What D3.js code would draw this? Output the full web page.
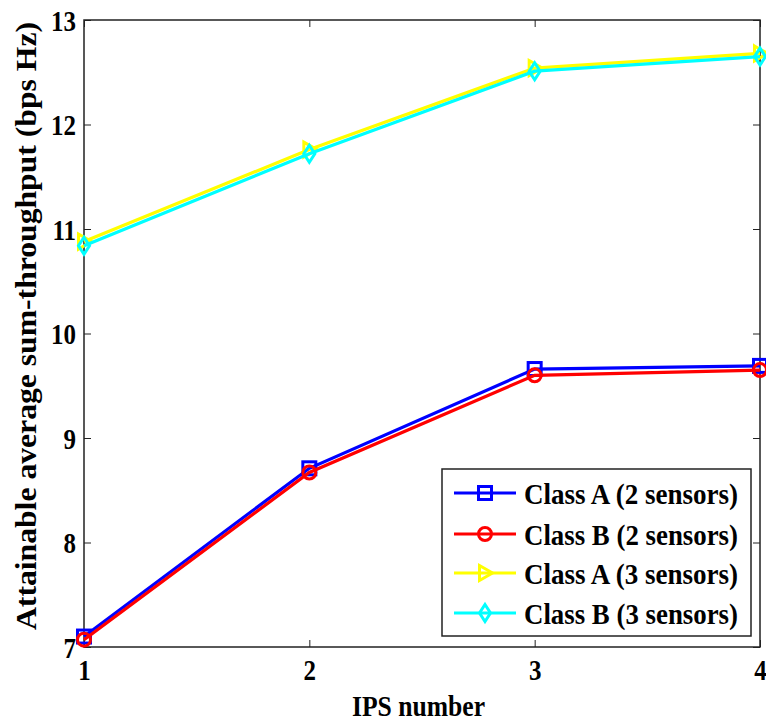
<!DOCTYPE html>
<html>
<head>
<meta charset="utf-8">
<script src="https://cdn.jsdelivr.net/npm/d3@7"></script>
<style>
  html, body { margin: 0; padding: 0; background: #fff; }
  svg text { font-family: "Liberation Serif", "Times New Roman", serif; font-weight: bold; fill: #000; }
</style>
</head>
<body>
<svg id="chart" width="766" height="723"></svg>
<script>
// IPS counts on the x axis
const ipsNumbers = [1, 2, 3, 4];
// Attainable average sum-throughput per series
const classA2 = [7.10, 8.71, 9.66, 9.69];
const classB2 = [7.07, 8.67, 9.60, 9.65];
const classA3 = [10.88, 11.76, 12.54, 12.68];
const classB3 = [10.84, 11.72, 12.51, 12.65];
const seriesNames = ["Class A (2 sensors)", "Class B (2 sensors)", "Class A (3 sensors)", "Class B (3 sensors)"];
const seriesColors = ["#0000ff", "#ff0000", "#ffff00", "#00ffff"];
const seriesMarkers = ["square", "circle", "triangle", "diamond"];
const yTicks = [7, 8, 9, 10, 11, 12, 13];

const seriesValues = [classA2, classB2, classA3, classB3];
const series = seriesNames.map((name, i) => ({
  name, color: seriesColors[i], marker: seriesMarkers[i],
  points: ipsNumbers.map((x, j) => ({ x, y: seriesValues[i][j] }))
}));

const svg = d3.select("#chart");
const m = { left: 84, right: 760, top: 20, bottom: 647 };

const x = d3.scaleLinear().domain([1, 4]).range([m.left, m.right]);
const y = d3.scaleLinear().domain([7, 13]).range([m.bottom, m.top]);

// Narrow the bold serif glyphs horizontally
function condense(sel, factor) {
  sel.each(function () {
    const w = this.getComputedTextLength();
    d3.select(this).attr("textLength", w * factor).attr("lengthAdjust", "spacingAndGlyphs");
  });
}

// Tick marks on all four sides, pointing inward
const tickLen = 7;
const g = svg.append("g");
g.append("g").attr("transform", `translate(0,${m.bottom})`)
  .call(d3.axisBottom(x).tickValues(ipsNumbers).tickSize(-tickLen).tickPadding(0).tickFormat(d3.format("d")))
  .call(s => s.select(".domain").remove())
  .call(s => s.selectAll(".tick text").attr("dy", null).attr("y", 33));
g.append("g").attr("transform", `translate(0,${m.top})`)
  .call(d3.axisTop(x).tickValues(ipsNumbers).tickSize(-tickLen).tickFormat(""))
  .call(s => s.select(".domain").remove());
g.append("g").attr("transform", `translate(${m.left},0)`)
  .call(d3.axisLeft(y).tickValues(yTicks).tickSize(-tickLen).tickPadding(0).tickFormat(d3.format("d")))
  .call(s => s.select(".domain").remove())
  .call(s => s.selectAll(".tick text").attr("dy", null).attr("x", -8).attr("y", 10));
g.append("g").attr("transform", `translate(${m.right},0)`)
  .call(d3.axisRight(y).tickValues(yTicks).tickSize(-tickLen).tickFormat(""))
  .call(s => s.select(".domain").remove());
g.selectAll(".tick line").attr("stroke", "#222").attr("stroke-width", 1);
g.selectAll(".tick text").attr("fill", "#000").attr("font-size", 29)
  .attr("font-family", "Liberation Serif, Times New Roman, serif").attr("font-weight", "bold")
  .call(condense, 0.86);

// Plot frame
svg.append("rect").attr("x", m.left).attr("y", m.top)
  .attr("width", m.right - m.left).attr("height", m.bottom - m.top)
  .attr("fill", "none").attr("stroke", "#222").attr("stroke-width", 1.5);

function drawMarker(sel, type, color, size) {
  const h = size / 2;
  if (type === "square") {
    sel.append("rect").attr("x", -h).attr("y", -h).attr("width", size).attr("height", size)
      .attr("fill", "none").attr("stroke", color).attr("stroke-width", 3);
  } else if (type === "circle") {
    sel.append("circle").attr("r", h).attr("fill", "none").attr("stroke", color).attr("stroke-width", 3);
  } else if (type === "triangle") {
    sel.append("path").attr("d", `M${-h + 1},${-h - 1}L${h + 1},0L${-h + 1},${h + 1}Z`)
      .attr("fill", "none").attr("stroke", color).attr("stroke-width", 3);
  } else {
    sel.append("path").attr("d", `M0,${-h - 2}L${h - 1},0L0,${h + 2}L${-h + 1},0Z`)
      .attr("fill", "none").attr("stroke", color).attr("stroke-width", 3);
  }
}

const line = d3.line().x(d => x(d.x)).y(d => y(d.y));
const plot = svg.append("g");
series.forEach(s => {
  plot.append("path").datum(s.points).attr("d", line)
    .attr("fill", "none").attr("stroke", s.color).attr("stroke-width", 3.2);
  s.points.forEach(p => {
    const mg = plot.append("g").attr("transform", `translate(${x(p.x)},${y(p.y)})`);
    drawMarker(mg, s.marker, s.color, 13);
  });
});

// Axis titles
svg.append("text").attr("x", 418.5).attr("y", 716)
  .attr("text-anchor", "middle").attr("font-size", 30)
  .attr("textLength", 133).attr("lengthAdjust", "spacingAndGlyphs").text("IPS number");
svg.append("text").attr("transform", `translate(36,326) rotate(-90)`)
  .attr("text-anchor", "middle").attr("font-size", 30)
  .attr("textLength", 608).attr("lengthAdjust", "spacingAndGlyphs")
  .text("Attainable average sum-throughput (bps Hz)");

// Legend
const lg = svg.append("g");
lg.append("rect").attr("x", 442).attr("y", 469).attr("width", 309).attr("height", 167)
  .attr("fill", "#fff").attr("stroke", "#222").attr("stroke-width", 1.5);
const rowY = [493, 534, 573, 613];
series.forEach((s, i) => {
  const ry = rowY[i];
  lg.append("line").attr("x1", 454).attr("x2", 516).attr("y1", ry).attr("y2", ry)
    .attr("stroke", s.color).attr("stroke-width", 3.2);
  const mg = lg.append("g").attr("transform", `translate(485,${ry})`);
  drawMarker(mg, s.marker, s.color, 13);
  lg.append("text").attr("x", 524).attr("y", ry + 11).attr("font-size", 30)
    .attr("textLength", 214).attr("lengthAdjust", "spacingAndGlyphs").text(s.name);
});
</script>
</body>
</html>
